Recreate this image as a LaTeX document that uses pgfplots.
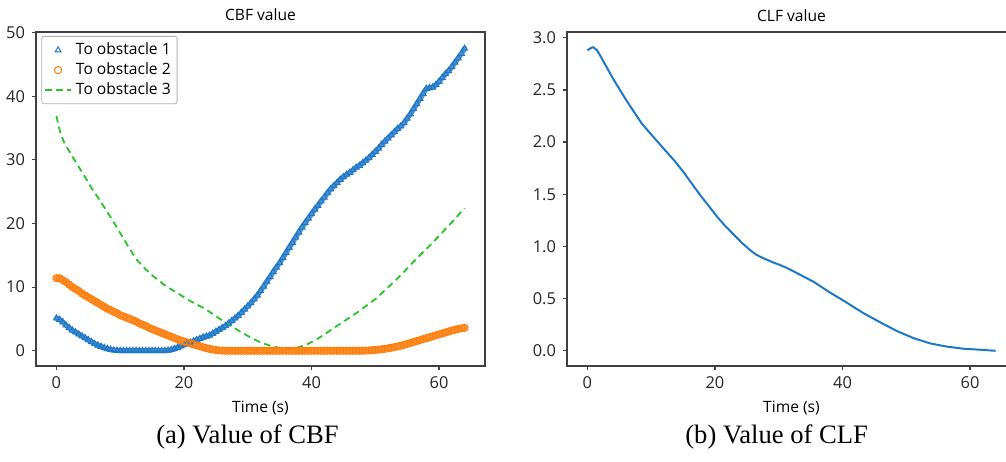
\documentclass[border=0pt]{standalone}
\usepackage{fontspec}
\setmainfont{Open Sans}
\newfontfamily\capfont{Liberation Serif}
\usepackage{pgfplots}
\pgfplotsset{compat=1.18}
\definecolor{mblue}{RGB}{31,119,200}
\definecolor{morange}{RGB}{255,127,14}
\definecolor{mgreen}{RGB}{40,195,40}

\pgfplotstableread{
t v
0 5.1
0.5 4.9
1 4.5
1.5 4.0
2 3.6
2.5 3.2
3 2.9
3.5 2.6
4 2.3
4.5 2.0
5 1.7
5.5 1.4
6 1.1
6.5 0.85
7 0.65
7.5 0.45
8 0.3
8.5 0.18
9 0.08
9.5 0.03
10 0
10.5 0
11 0
11.5 0
12 0
12.5 0
13 0
13.5 0
14 0
14.5 0
15 0
15.5 0
16 0
16.5 0
17 0
17.5 0.05
18 0.15
18.5 0.3
19 0.5
19.5 0.7
20 0.9
20.5 1.1
21 1.3
21.5 1.5
22 1.7
22.5 1.9
23 2.1
23.5 2.25
24 2.4
24.5 2.7
25 3.0
25.5 3.3
26 3.6
26.5 3.9
27 4.3
27.5 4.7
28 5.1
28.5 5.5
29 6.0
29.5 6.5
30 7.0
30.5 7.5
31 8.1
31.5 8.7
32 9.4
32.5 10.1
33 10.9
33.5 11.6
34 12.4
34.5 13.1
35 13.8
35.5 14.6
36 15.4
36.5 16.2
37 17.0
37.5 17.8
38 18.6
38.5 19.4
39 20.1
39.5 20.8
40 21.5
40.5 22.2
41 22.8
41.5 23.5
42 24.1
42.5 24.8
43 25.4
43.5 25.9
44 26.4
44.5 26.9
45 27.3
45.5 27.7
46 28.0
46.5 28.4
47 28.8
47.5 29.1
48 29.5
48.5 29.9
49 30.3
49.5 30.8
50 31.3
50.5 31.8
51 32.4
51.5 32.9
52 33.4
52.5 33.9
53 34.4
53.5 34.9
54 35.3
54.5 35.8
55 36.5
55.5 37.2
56 38.0
56.5 38.8
57 39.6
57.5 40.4
58 41.2
58.5 41.3
59 41.4
59.5 41.8
60 42.3
60.5 42.9
61 43.5
61.5 44.0
62 44.6
62.5 45.3
63 46.0
63.5 46.7
64 47.5
}\obsone

\pgfplotstableread{
t v
0 11.4
0.5 11.4
1 11.1
1.5 10.8
2 10.4
2.5 10.0
3 9.7
3.5 9.4
4 9.0
4.5 8.7
5 8.4
5.5 8.1
6 7.8
6.5 7.5
7 7.2
7.5 6.9
8 6.6
8.5 6.4
9 6.1
9.5 5.9
10 5.6
10.5 5.4
11 5.2
11.5 5.0
12 4.8
12.5 4.6
13 4.3
13.5 4.1
14 3.9
14.5 3.6
15 3.4
15.5 3.2
16 3.0
16.5 2.8
17 2.6
17.5 2.4
18 2.2
18.5 2.0
19 1.8
19.5 1.6
20 1.45
20.5 1.3
21 1.15
21.5 1.0
22 0.85
22.5 0.7
23 0.55
23.5 0.4
24 0.3
24.5 0.2
25 0.12
25.5 0.06
26 0.02
26.5 0
27 0
27.5 0
28 0
28.5 0
29 0
29.5 0
30 0
30.5 0
31 0
31.5 0
32 0
32.5 0
33 0
33.5 0
34 0
34.5 0
35 0
35.5 0
36 0
36.5 0
37 0
37.5 0
38 0
38.5 0
39 0
39.5 0
40 0
40.5 0
41 0
41.5 0
42 0
42.5 0
43 0
43.5 0
44 0
44.5 0
45 0
45.5 0
46 0
46.5 0
47 0
47.5 0
48 0
48.5 0.02
49 0.05
49.5 0.08
50 0.12
50.5 0.17
51 0.23
51.5 0.3
52 0.38
52.5 0.47
53 0.57
53.5 0.68
54 0.8
54.5 0.93
55 1.07
55.5 1.22
56 1.37
56.5 1.52
57 1.67
57.5 1.82
58 1.97
58.5 2.12
59 2.27
59.5 2.42
60 2.57
60.5 2.72
61 2.87
61.5 3.02
62 3.17
62.5 3.3
63 3.42
63.5 3.52
64 3.6
}\obstwo

\pgfplotsset{
  mpl/.style={
    scale only axis, width=224.5pt, height=167pt, anchor=south west,
    axis line style={black!75, line width=0.6pt},
    tick align=outside, major tick length=2pt,
    xtick pos=bottom, ytick pos=left,
    tick style={black!75, line width=0.6pt},
    xmin=-3.2, xmax=67.2, xtick={0,20,40,60},
    tick label style={font=\fontsize{8.2}{9}\selectfont, text=black!85},
    /pgf/number format/assume math mode=true,
    every axis title/.style={font=\fontsize{7.8}{9}\selectfont, at={(0.5,1)}, anchor=base, yshift=5.5pt},
    xlabel={Time (s)},
    xlabel style={font=\fontsize{7.8}{9}\selectfont, at={(0.5,0)}, anchor=base, yshift=-23pt},
  },
  markleg/.style={legend image code/.code={\draw[##1] plot coordinates {(6.5pt,0pt)};}},
  lineleg/.style={legend image code/.code={\draw[##1] (0pt,0pt) -- (13pt,0pt);}},
}

\begin{document}
\begin{tikzpicture}
\begin{axis}[mpl, at={(18pt,47.5pt)},
  title={CBF value},
  ymin=-2.4, ymax=50.1, ytick={0,10,20,30,40,50},
  legend style={at={(0.012,0.988)}, anchor=north west, draw=black!30,
    rounded corners=1pt, font=\fontsize{7.8}{9}\selectfont,
    inner sep=1.2pt, row sep=-1.5pt, cells={anchor=west}},
]
% solid band underneath the dense markers
\addplot[mblue!80!white, line width=2.6pt, line cap=round, line join=round, forget plot] table {\obsone};
\addplot[mblue, only marks, mark=triangle, mark size=1.7pt, mark options={line width=0.5pt}, markleg]
  table {\obsone};
\addlegendentry{To obstacle 1}
\addplot[morange!85!white, line width=3pt, line cap=round, line join=round, forget plot] table {\obstwo};
\addplot[morange, only marks, mark=o, mark size=1.8pt, mark options={line width=0.5pt}, markleg]
  table {\obstwo};
\addlegendentry{To obstacle 2}
\addplot[mgreen, line width=0.9pt, dash pattern=on 3.3pt off 2.2pt, line join=round, lineleg]
  coordinates {
  (0,36.9)(0.6,34.3)(1.3,32.5)(2,31.4)(3,29.7)(4.3,27.6)(5.5,25.6)(6.9,23.5)(8.5,21.0)(10,18.5)
  (11.3,16.3)(12.6,14.3)(14,12.8)(15.2,11.7)(17,10.3)(18.9,9.1)(21,7.8)(23.1,6.7)(24.5,5.8)(25.5,5.1)
  (26.8,4.2)(28.5,3.2)(30.4,2.1)(32,1.3)(33.5,0.8)(35,0.45)(36.5,0.35)(38,0.55)(39.5,1.1)(41,1.9)
  (42.5,2.9)(44,3.9)(45.5,4.9)(47,5.9)(48.5,7.0)(50,8.1)(51.5,9.5)(53,10.9)(54.5,12.4)(56,14.0)
  (57.5,15.5)(59,17.0)(60.5,18.6)(62,20.2)(63,21.3)(64,22.4)
  };
\addlegendentry{To obstacle 3}
\end{axis}

\begin{axis}[mpl, at={(283.5pt,47.5pt)},
  title={CLF value},
  ymin=-0.1455, ymax=3.055, ytick={0,0.5,1,1.5,2,2.5,3},
  yticklabel style={/pgf/number format/.cd, fixed, fixed zerofill, precision=1},
]
\addplot[mblue, line width=1pt, line join=round] coordinates {
  (0,2.88)(0.5,2.90)(0.9,2.91)(1.5,2.88)(2,2.83)(3,2.72)(4,2.61)(4.7,2.54)(6,2.41)(7.3,2.29)
  (8.5,2.18)(9.9,2.08)(11.2,1.99)(12.5,1.90)(13.8,1.81)(15.1,1.71)(16.4,1.60)(17.7,1.49)(19,1.39)(20.4,1.28)
  (21.7,1.19)(23,1.11)(24.3,1.03)(25.6,0.96)(26.5,0.92)(27.5,0.89)(29,0.85)(30.3,0.82)(31.4,0.79)(33,0.74)
  (35.5,0.66)(38,0.56)(40.7,0.46)(43.3,0.36)(46,0.27)(48.5,0.19)(51.2,0.12)(53.8,0.07)(56.4,0.04)(59,0.02)
  (61.7,0.01)(64,0.0)
  };
\end{axis}

\node[font=\capfont\fontsize{13.3}{15}\selectfont, anchor=base] at (123.75pt,9pt) {(a) Value of CBF};
\node[font=\capfont\fontsize{13.3}{15}\selectfont, anchor=base] at (388.3pt,9pt) {(b) Value of CLF};

\pgfresetboundingbox
\useasboundingbox (0,0) rectangle (503pt,230.5pt);
\end{tikzpicture}
\end{document}
